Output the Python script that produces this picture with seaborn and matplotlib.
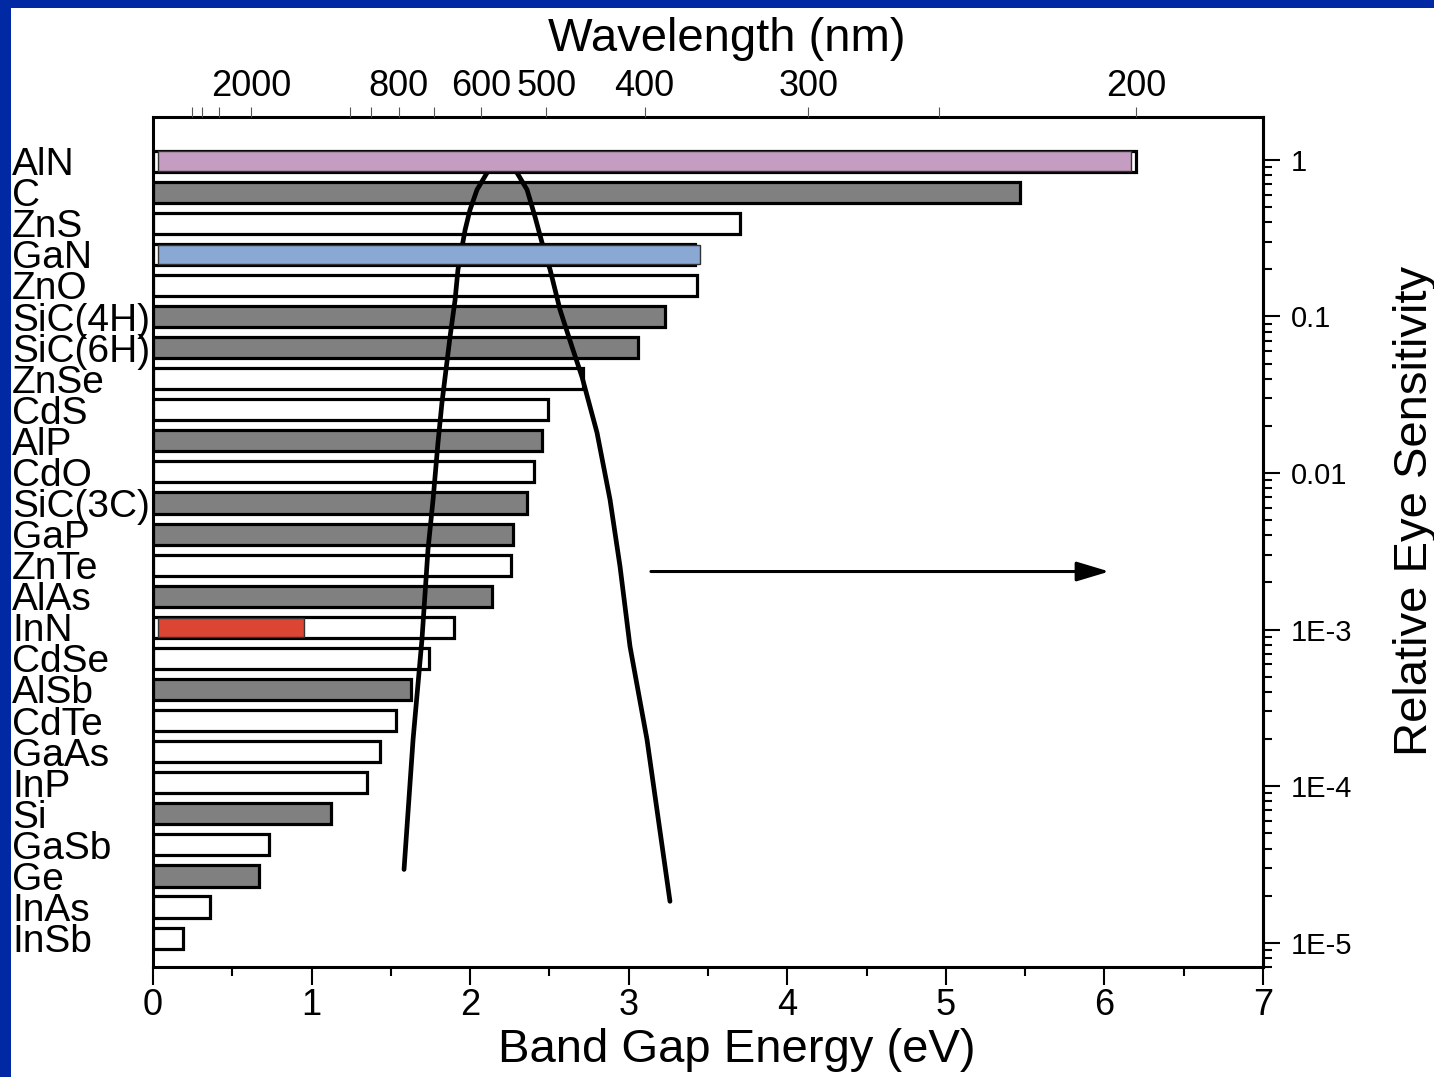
import numpy as np
import pandas as pd
import seaborn as sns
import matplotlib.pyplot as plt
from matplotlib.patches import Rectangle
from matplotlib.ticker import LogLocator, NullFormatter, MultipleLocator

# band gaps (eV), top to bottom
materials = ['AlN', 'C', 'ZnS', 'GaN', 'ZnO', 'SiC(4H)', 'SiC(6H)', 'ZnSe', 'CdS', 'AlP',
             'CdO', 'SiC(3C)', 'GaP', 'ZnTe', 'AlAs', 'InN', 'CdSe', 'AlSb', 'CdTe', 'GaAs',
             'InP', 'Si', 'GaSb', 'Ge', 'InAs', 'InSb']
band_gaps = [6.20, 5.47, 3.70, 3.42, 3.43, 3.23, 3.06, 2.71, 2.49, 2.45,
             2.40, 2.36, 2.27, 2.26, 2.14, 1.90, 1.74, 1.63, 1.53, 1.43,
             1.35, 1.12, 0.73, 0.67, 0.36, 0.19]
gap_type = ['direct', 'indirect', 'direct', 'direct', 'direct', 'indirect', 'indirect', 'direct', 'direct', 'indirect',
            'direct', 'indirect', 'indirect', 'direct', 'indirect', 'direct', 'direct', 'indirect', 'direct', 'direct',
            'direct', 'indirect', 'direct', 'indirect', 'direct', 'direct']

# nitrides highlighted on top
highlight_materials = ['AlN', 'GaN', 'InN']
highlight_gaps = [6.17, 3.45, 0.95]
highlight_colors = ['#C59DC2', '#8AA8D4', '#DC4434']

# relative eye sensitivity vs photon energy
eye_energy = [1.583, 1.640, 1.696, 1.734, 1.766, 1.797, 1.822, 1.873, 1.905, 1.923, 1.949, 1.968,
              1.999, 2.043, 2.106, 2.201, 2.296, 2.359, 2.409, 2.460, 2.504, 2.567, 2.642, 2.705,
              2.800, 2.882, 2.945, 3.008, 3.115, 3.260]
eye_sens = [2.94e-5, 1.99e-4, 8.65e-4, 3.24e-3, 6.76e-3, 0.0156, 0.0281, 0.0741, 0.128, 0.199, 0.279, 0.357,
            0.480, 0.644, 0.826, 1.0, 0.826, 0.644, 0.433, 0.279, 0.199, 0.110, 0.0641, 0.0412,
            0.0181, 6.76e-3, 2.53e-3, 7.80e-4, 1.99e-4, 1.84e-5]

# top wavelength axis
nm_major = [2000, 800, 600, 500, 400, 300, 200]
nm_minor = [5000, 4000, 3000, 1000, 900, 700, 250]
sens_ticks = [1e-5, 1e-4, 1e-3, 1e-2, 1e-1, 1]
sens_labels = ['1E-5', '1E-4', '1E-3', '0.01', '0.1', '1']

# arrow pointing to the right axis
arrow_from_ev, arrow_to_ev, arrow_level = 3.14, 6.03, 2.35e-3

HC = 1239.84  # eV*nm

sns.set_style('ticks')
plt.rcParams['font.family'] = ['Liberation Sans', 'DejaVu Sans']
plt.rcParams['text.color'] = 'black'
plt.rcParams['axes.labelcolor'] = 'black'
plt.rcParams['xtick.color'] = 'black'
plt.rcParams['ytick.color'] = 'black'

fig = plt.figure(figsize=(14.34, 10.77), dpi=100)
ax = fig.add_axes([0.1067, 0.1021, 0.7741, 0.7893])
ax2 = ax.twinx()
ax3 = ax.twiny()

# right axis first, so the curve transform is ready
ax2.set_yscale('log')
ax2.set_yticks(sens_ticks, labels=sens_labels)
ax2.yaxis.set_minor_locator(LogLocator(base=10, subs=np.arange(2, 10), numticks=20))
ax2.yaxis.set_minor_formatter(NullFormatter())
ax2.set_ylim(7.0e-6, 1.88)

df = pd.DataFrame({'material': materials, 'gap': band_gaps, 'type': gap_type})
sns.barplot(data=df, y='material', x='gap', hue='type', order=materials,
            palette={'direct': 'white', 'indirect': '#808080'}, saturation=1,
            width=0.68, edgecolor='black', linewidth=2.3, dodge=False, legend=False,
            errorbar=None, ax=ax)

# eye curve drawn in ax (above the bars) but using the log axis scale
ax.plot(eye_energy, eye_sens, color='black', lw=3.4, transform=ax2.transData, zorder=3)

rows = [materials.index(m) for m in highlight_materials]
ax.barh(rows, np.array(highlight_gaps) - 0.03, left=0.03, height=0.62,
        color=highlight_colors, edgecolor='#333333', linewidth=1, zorder=4)

ax.set_xlim(0, 7)
ax.set_ylim(25.93, -1.42)
ax.set_xticks(range(8))
ax.xaxis.set_minor_locator(MultipleLocator(0.5))
ax.tick_params(axis='x', which='major', direction='out', length=13, width=1.5, labelsize=26, pad=2)
ax.tick_params(axis='x', which='minor', direction='out', length=6.5, width=1.5)
ax.tick_params(axis='y', length=0, pad=101.5, labelsize=28)
for t in ax.get_yticklabels():
    t.set_horizontalalignment('left')
ax.set_ylabel('')
ax.set_xlabel('Band Gap Energy (eV)', fontsize=34)
ax.xaxis.set_label_coords(0.526, -0.072)
for s in ax.spines.values():
    s.set_visible(True)
    s.set_linewidth(2.2)
    s.set_color('black')

# right axis styling
ax2.tick_params(axis='y', which='major', direction='out', length=12, width=1.5, labelsize=21, pad=8)
ax2.tick_params(axis='y', which='minor', direction='out', length=6.5, width=1.5)
ax2.set_ylabel('Relative Eye Sensitivity', fontsize=34)
ax2.yaxis.set_label_coords(1.117, 0.536)
for k, s in ax2.spines.items():
    s.set_visible(k == 'right')
    s.set_linewidth(2.2)
    s.set_color('black')

ax2.annotate('', xy=(arrow_to_ev, arrow_level), xytext=(arrow_from_ev, arrow_level),
             arrowprops=dict(arrowstyle='-|>,head_length=0.4,head_width=0.12', mutation_scale=50,
                             lw=2.2, color='black', shrinkA=0, shrinkB=0))

# top wavelength axis
ax3.set_xlim(ax.get_xlim())
ax3.set_xticks([HC / w for w in nm_major], labels=[str(w) for w in nm_major])
ax3.set_xticks([HC / w for w in nm_minor], minor=True)
ax3.tick_params(axis='x', which='both', direction='out', length=7.2, width=0.8,
                color='#555555', labelsize=26, pad=2)
ax3.set_xlabel('Wavelength (nm)', fontsize=34)
ax3.xaxis.set_label_coords(0.517, 1.078)
for s in ax3.spines.values():
    s.set_visible(False)

# blue slide frame
fig.add_artist(Rectangle((0, 0), 11 / 1434, 1, transform=fig.transFigure, color='#0029A3', lw=0))
fig.add_artist(Rectangle((0, 1 - 8 / 1077), 1, 8 / 1077, transform=fig.transFigure, color='#0029A3', lw=0))

fig.savefig('out.png', dpi=100)
